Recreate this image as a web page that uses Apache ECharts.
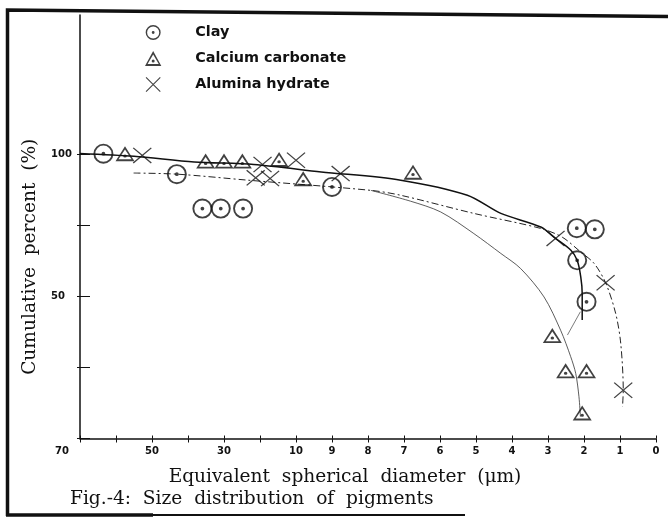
<!DOCTYPE html>
<html><head><meta charset="utf-8">
<script src="https://cdn.jsdelivr.net/npm/echarts@6/dist/echarts.min.js"></script>
<style>html,body{margin:0;padding:0;background:#fff}#c{width:668px;height:518px}</style>
</head><body><div id="c"></div>
<script>
// x axis: piecewise diameter scale (70..10 step 10, then 10..0 step 1), equally spaced ticks
const xTickLabels = ['70','','50','','30','','10','9','8','7','6','5','4','3','2','1','0'];
const yTickValues = [0, 25, 50, 75, 100];
const yLabelValues = [50, 100];

// Clay
const clayD = [63.5, 43.1, 36, 30.9, 24.7, 9.0, 2.2, 1.7, 2.19, 1.93];
const clayP = [100.2, 93.0, 80.9, 80.9, 80.9, 88.5, 74.0, 73.6, 62.7, 48.1];
// Calcium carbonate
const caD = [57.5, 35.1, 30, 24.9, 14.7, 9.8, 6.75, 2.88, 2.51, 1.93, 2.05];
const caP = [100.2, 97.6, 97.6, 97.6, 98.2, 91.4, 93.7, 36.2, 23.8, 23.8, 9.0];
// Alumina hydrate
const alD = [52.7, 19.3, 21.2, 17.2, 10, 8.76, 2.79, 1.4, 0.91];
const alP = [99.6, 96.4, 91.7, 91.5, 97.9, 93.2, 70.4, 54.8, 17.0];

// hand-drawn fitted curves
const curveAD = [70, 55, 38.3, 21.7, 9.3, 7.09, 5.24, 4.31, 3.2, 2.79, 2.37, 2.19, 2.09, 2.05, 2.05];
const curveAP = [100.3, 99.3, 97.3, 96.4, 93.8, 90.9, 85.6, 79.2, 74.4, 70.4, 66.3, 62.7, 56.9, 51, 41.7];
const curveBD = [55.1, 43, 23.5, 7.92, 7.1, 5.06, 3.2, 2.6, 2.1, 1.72, 1.4, 1.12, 0.98, 0.91, 0.93];
const curveBP = [93.4, 93, 90.9, 87.3, 85.6, 79.2, 73.9, 70.8, 65.7, 61.6, 54.8, 44, 33.5, 17, 11.2];
const curveCD = [7.92, 6.82, 5.98, 5.06, 4.31, 3.76, 3.11, 2.65, 2.37, 2.23, 2.14, 2.1];
const curveCP = [87.3, 83.5, 79.7, 72.1, 65.1, 59.8, 49.8, 38.1, 28.8, 22.9, 14.7, 7.7];
const linkD = [2.1, 2.46];
const linkP = [44.6, 36.4];

function toAxis(d) { return d >= 10 ? (70 - d) / 10 : 16 - d; }
function pts(D, P) { return D.map((d, i) => [toAxis(d), P[i]]); }

const ringPath = 'path://M10,0.5A9.5,9.5,0,0,1,10,19.5A9.5,9.5,0,0,1,10,0.5ZM10,2.3A7.7,7.7,0,0,0,10,17.7A7.7,7.7,0,0,0,10,2.3ZM10,8.2A1.8,1.8,0,0,1,10,11.8A1.8,1.8,0,0,1,10,8.2Z';
const triPath = 'path://M10,0.5L19.8,18.5L0.2,18.5ZM10,4.6L3.3,16.2L16.7,16.2ZM10,10.6A1.8,1.8,0,0,1,10,14.2A1.8,1.8,0,0,1,10,10.6Z';
const crossPath = 'path://M0,1L1,0L20,19L19,20ZM19,0L20,1L1,20L0,19Z';

const INK = '#111';
const labelIdx = xTickLabels.map((t, i) => t ? i : -1).filter(i => i >= 0);
const allIdx = xTickLabels.map((t, i) => i);

const chart = echarts.init(document.getElementById('c'), null, {renderer: 'canvas'});
chart.setOption({
  animation: false,
  backgroundColor: '#fff',
  grid: {left: 80, right: 12, top: 15, bottom: 79.5},
  title: {
    text: 'Fig.-4:  Size  distribution  of  pigments',
    left: 70, top: 490, padding: 0,
    textStyle: {fontFamily: 'DejaVu Serif', fontWeight: 'normal', fontSize: 18.6, color: INK}
  },
  legend: {
    orient: 'vertical', left: 145, top: 25, padding: 0,
    itemWidth: 74, itemHeight: 15, itemGap: 11,
    symbolKeepAspect: true,
    data: ['Clay', 'Calcium carbonate', 'Alumina hydrate'],
    textStyle: {fontFamily: 'DejaVu Sans', fontWeight: 'bold', fontSize: 14.4, color: INK}
  },
  xAxis: [{
    type: 'value', min: 0, max: 16,
    name: 'Equivalent  spherical  diameter  (\u03bcm)',
    nameLocation: 'middle', nameGap: 29,
    nameTextStyle: {fontFamily: 'DejaVu Serif', fontSize: 18.6, color: INK, padding: [0, 46, 0, 0]},
    axisLine: {onZero: false, lineStyle: {color: INK, width: 1.5}},
    axisTick: {customValues: allIdx, length: 4, lineStyle: {color: INK, width: 1}},
    axisLabel: {
      customValues: labelIdx, margin: 8,
      fontFamily: 'DejaVu Sans', fontWeight: 'bold', fontSize: 10, color: INK,
      formatter: v => { const t = xTickLabels[Math.round(v)]; return Math.round(v) === 0 ? '{s|' + t + '}' : t; },
      rich: {s: {fontFamily: 'DejaVu Sans', fontWeight: 'bold', fontSize: 10, color: INK, padding: [0, 36, 0, 0]}}
    },
    splitLine: {show: false}
  }, {
    type: 'value', min: 0, max: 16, position: 'bottom',
    axisLine: {show: false},
    axisTick: {customValues: allIdx, inside: true, length: 3, lineStyle: {color: INK, width: 1}},
    axisLabel: {show: false}, splitLine: {show: false}
  }],
  yAxis: [{
    type: 'value', min: 0, max: 149,
    name: 'Cumulative  percent  (%)',
    nameLocation: 'middle', nameGap: 39,
    nameTextStyle: {fontFamily: 'DejaVu Serif', fontSize: 18.6, color: INK, padding: [0, 60, 0, 0]},
    axisLine: {lineStyle: {color: INK, width: 1.5}},
    axisTick: {customValues: yTickValues, length: 3, lineStyle: {color: INK, width: 1}},
    axisLabel: {
      customValues: yLabelValues, margin: 29, align: 'left',
      fontFamily: 'DejaVu Sans', fontWeight: 'bold', fontSize: 10, color: INK
    },
    splitLine: {show: false}
  }, {
    type: 'value', min: 0, max: 149, position: 'left',
    axisLine: {show: false},
    axisTick: {customValues: yTickValues, inside: true, length: 10, lineStyle: {color: INK, width: 1}},
    axisLabel: {show: false}, splitLine: {show: false}
  }],
  graphic: [{
    type: 'polyline', silent: true,
    shape: {points: [[7.5, 516], [7.5, 10], [668, 16.5]]},
    style: {fill: null, stroke: INK, lineWidth: 3.5}
  }, {
    type: 'line', silent: true,
    shape: {x1: 6, y1: 515, x2: 153, y2: 515},
    style: {stroke: INK, lineWidth: 3.5}
  }, {
    type: 'line', silent: true,
    shape: {x1: 153, y1: 515, x2: 465, y2: 515},
    style: {stroke: INK, lineWidth: 1.8}
  }],
  series: [
    {type: 'line', data: pts(curveAD, curveAP), showSymbol: false, smooth: 0.3, silent: true,
     lineStyle: {color: INK, width: 1.5}, z: 1},
    {type: 'line', data: pts(curveBD, curveBP), showSymbol: false, smooth: 0.3, silent: true,
     lineStyle: {color: '#222', width: 1, type: [7, 3, 2, 3]}, z: 1},
    {type: 'line', data: pts(curveCD, curveCP), showSymbol: false, smooth: 0.3, silent: true,
     lineStyle: {color: '#333', width: 0.8}, z: 1},
    {type: 'line', data: pts(linkD, linkP), showSymbol: false, silent: true,
     lineStyle: {color: '#444', width: 0.7}, z: 1},
    {name: 'Clay', type: 'scatter', data: pts(clayD, clayP), symbol: ringPath,
     symbolSize: 20, symbolKeepAspect: true, itemStyle: {color: INK}, z: 3},
    {name: 'Calcium carbonate', type: 'scatter', data: pts(caD, caP), symbol: triPath,
     symbolSize: [19, 15], itemStyle: {color: INK}, z: 3},
    {name: 'Alumina hydrate', type: 'scatter', data: pts(alD, alP), symbol: crossPath,
     symbolSize: [19, 16], itemStyle: {color: INK}, z: 3}
  ]
});
</script></body></html>
